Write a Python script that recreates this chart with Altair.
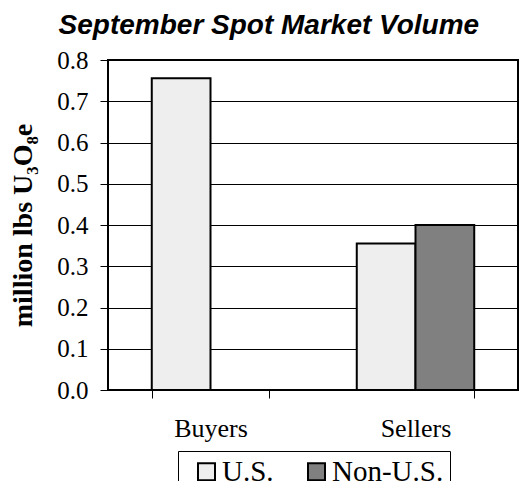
import altair as alt
import pandas as pd

categories = ["Buyers", "Sellers"]
series = ["U.S.", "Non-U.S."]
us_values = [0.756, 0.355]
non_us_values = [0.0, 0.400]
y_ticks = [0.0, 0.1, 0.2, 0.3, 0.4, 0.5, 0.6, 0.7, 0.8]
colors = ["#eeeeee", "#808080"]

rows = []
for i, c in enumerate(categories):
    rows.append({"group": c, "origin": series[0], "value": us_values[i]})
    rows.append({"group": c, "origin": series[1], "value": non_us_values[i]})
df = pd.DataFrame(rows)

serif = "Liberation Serif"

chart = alt.Chart(df).mark_bar(stroke="black", strokeWidth=2).encode(
    x=alt.X("group:N", sort=categories,
            scale=alt.Scale(paddingInner=0.427, paddingOuter=0.2135),
            axis=alt.Axis(title=None, labelAngle=0, labelFont=serif, labelFontSize=26,
                          labelColor="black", tickBand="extent", tickColor="black",
                          tickSize=8, tickWidth=1, labelPadding=17, domain=False, grid=False)),
    xOffset=alt.XOffset("origin:N", sort=series, scale=alt.Scale(paddingInner=0, paddingOuter=0)),
    y=alt.Y("value:Q", scale=alt.Scale(domain=[0, 0.8], nice=False),
            axis=alt.Axis(title="million lbs U₃O₈e", values=y_ticks, format=".1f",
                          labelFont=serif, labelFontSize=25, labelColor="black",
                          tickColor="black", tickSize=8, tickWidth=1, labelPadding=12,
                          grid=True, gridColor="black", gridWidth=1, domain=False,
                          titleFont=serif, titleFontSize=28, titleFontWeight="bold",
                          titleColor="black", titlePadding=19)),
    fill=alt.Fill("origin:N", sort=series,
                  scale=alt.Scale(domain=series, range=colors),
                  legend=alt.Legend(title=None, orient="none", legendX=70, legendY=391,
                                    direction="horizontal", symbolType="square",
                                    symbolSize=289, symbolStrokeColor="black",
                                    symbolStrokeWidth=2, symbolOffset=8,
                                    labelFont=serif, labelFontSize=29,
                                    labelColor="black", strokeColor="black", padding=6,
                                    columnPadding=20, labelOffset=1)),
).properties(
    width=410,
    height=330,
    title=alt.TitleParams("September Spot Market Volume", font="Liberation Sans",
                          fontSize=28, fontWeight="bold", fontStyle="italic",
                          color="black", anchor="middle", frame="bounds", offset=8, dx=5),
).configure_view(
    stroke="black", strokeWidth=2
).properties(
    autosize=alt.AutoSizeParams(type="none"),
    padding={"left": 100, "top": 52, "right": 1, "bottom": 91},
)

chart.save("out.html", embed_options={"renderer": "svg", "actions": False})
